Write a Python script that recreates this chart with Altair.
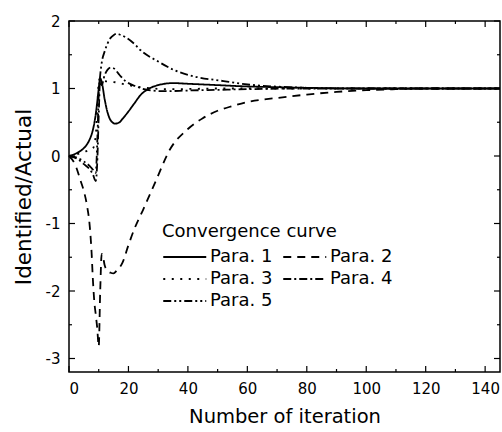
import altair as alt
import pandas as pd

# ---- data ----
p1_x = [0, 2, 4, 6, 7, 8, 9, 9.5, 10, 10.5, 11, 12, 13, 14, 15.5, 17, 18, 20, 22, 24, 27, 30, 35, 40, 45, 50, 60, 70, 80, 100, 145]
p1_y = [0, 0.03, 0.08, 0.17, 0.25, 0.38, 0.62, 0.8, 1.0, 1.15, 1.1, 0.84, 0.64, 0.53, 0.48, 0.5, 0.55, 0.66, 0.78, 0.9, 1.0, 1.05, 1.08, 1.07, 1.06, 1.05, 1.03, 1.02, 1.01, 1.0, 1.0]

p2_x = [0, 2, 4, 5, 6, 7, 7.6, 8, 8.5, 9, 9.5, 10, 10.5, 11, 11.5, 12, 13, 14, 15, 16, 18, 20, 22, 25, 29, 34, 40, 45, 50, 55, 60, 70, 80, 90, 100, 110, 120, 145]
p2_y = [0, -0.12, -0.38, -0.52, -0.72, -1.05, -1.43, -1.8, -2.15, -2.35, -2.55, -2.82, -2.0, -1.45, -1.5, -1.62, -1.7, -1.73, -1.74, -1.7, -1.58, -1.32, -1.08, -0.79, -0.39, 0.1, 0.4, 0.56, 0.67, 0.74, 0.8, 0.86, 0.91, 0.95, 0.975, 0.99, 1.0, 1.0]

p3_x = [0, 3, 5, 7, 8, 9, 9.5, 10, 10.5, 11, 12, 14, 16, 18, 20, 24, 28, 35, 50, 145]
p3_y = [0, 0.03, 0.06, 0.09, 0.11, 0.3, 0.7, 1.1, 1.15, 1.12, 1.11, 1.1, 1.09, 1.07, 1.05, 1.02, 1.0, 0.99, 1.0, 1.0]

p4_x = [0, 3, 5, 7, 8, 9, 9.5, 10, 10.5, 11, 12, 13, 14, 15, 17, 19, 22, 24.5, 28, 32, 40, 50, 60, 80, 145]
p4_y = [0, -0.05, -0.12, -0.2, -0.27, -0.37, -0.1, 0.6, 1.15, 1.05, 1.2, 1.28, 1.31, 1.3, 1.2, 1.11, 1.04, 1.0, 0.97, 0.96, 0.97, 0.98, 0.99, 1.0, 1.0]

p5_x = [0, 3, 5, 7, 8, 9, 9.5, 10, 10.5, 11, 12, 13, 14, 15, 16, 17, 19, 22, 24, 30, 35, 42, 52, 60, 69, 80, 95, 145]
p5_y = [0, -0.03, -0.08, -0.15, -0.2, -0.25, 0.2, 0.9, 1.2, 1.38, 1.55, 1.67, 1.75, 1.79, 1.81, 1.8, 1.76, 1.66, 1.57, 1.4, 1.28, 1.18, 1.11, 1.06, 1.03, 1.01, 1.0, 1.0]

series_names = ["Para. 1", "Para. 2", "Para. 3", "Para. 4", "Para. 5"]
dashes = {"Para. 1": [1, 0], "Para. 2": [8, 6], "Para. 3": [2, 6.5],
          "Para. 4": [8, 3, 2, 3], "Para. 5": [8, 3, 2, 3, 2, 3]}
# legend fills column by column: this order gives rows (1,2), (3,4), (5)
legend_order = ["Para. 1", "Para. 3", "Para. 5", "Para. 2", "Para. 4"]

x_major = [0, 20, 40, 60, 80, 100, 120, 140]
x_minor = [10, 30, 50, 70, 90, 110, 130]
y_major = [-3, -2, -1, 0, 1, 2]
y_minor = [-2.5, -1.5, -0.5, 0.5, 1.5]

W, H = 431, 351
FONT = "DejaVu Sans"

rows = []
for name, xs, ys in zip(series_names, [p1_x, p2_x, p3_x, p4_x, p5_x], [p1_y, p2_y, p3_y, p4_y, p5_y]):
    for i, (a, b) in enumerate(zip(xs, ys)):
        rows.append({"series": name, "iter": a, "val": b, "order": i})
df = pd.DataFrame(rows)

xscale = alt.Scale(domain=[0, 145], nice=False, zero=False)
yscale = alt.Scale(domain=[-3.2, 2], nice=False, zero=False)

lines = alt.Chart(df).mark_line(color="black", strokeWidth=1.8, interpolate="monotone").encode(
    x=alt.X("iter:Q", scale=xscale,
            axis=alt.Axis(values=x_major, title="Number of iteration", ticks=False, domain=False, grid=False,
                          labelFontSize=15, labelPadding=9, labelFont=FONT, labelColor="black",
                          titleFont=FONT, titleFontSize=19.5, titleFontWeight="normal", titleColor="black",
                          titlePadding=11)),
    y=alt.Y("val:Q", scale=yscale,
            axis=alt.Axis(values=y_major, title="Identified/Actual", ticks=False, domain=False, grid=False,
                          labelFontSize=15, labelPadding=9, labelFont=FONT, labelColor="black",
                          labelExpr="datum.value + ''",
                          titleFont=FONT, titleFontSize=21.5, titleFontWeight="normal", titleColor="black",
                          titlePadding=10)),
    strokeDash=alt.StrokeDash("series:N",
                              scale=alt.Scale(domain=legend_order, range=[dashes[n] for n in legend_order]),
                              legend=alt.Legend(title="Convergence curve", orient="none", legendX=93, legendY=202,
                                                columns=2, columnPadding=6, rowPadding=1,
                                                symbolType="M-2,0H2", symbolSize=462, symbolStrokeWidth=1.8,
                                                symbolOffset=10.75,
                                                symbolStrokeColor="black", labelOffset=13.25,
                                                labelFont=FONT, labelFontSize=18, labelColor="black",
                                                titleFont=FONT, titleFontSize=18, titleFontWeight="normal",
                                                titleColor="black", titlePadding=4)),
    order="order:Q",
)

def tick_layer(vals, channel, length):
    d = pd.DataFrame({"v": vals})
    base = alt.Chart(d).mark_rule(color="black", strokeWidth=1.2)
    if channel == "x":
        top = base.encode(x=alt.X("v:Q", scale=xscale), y=alt.value(0), y2=alt.value(length))
        bot = base.encode(x=alt.X("v:Q", scale=xscale), y=alt.value(H), y2=alt.value(H - length))
        return [top, bot]
    else:
        left = base.encode(y=alt.Y("v:Q", scale=yscale), x=alt.value(0), x2=alt.value(length))
        right = base.encode(y=alt.Y("v:Q", scale=yscale), x=alt.value(W), x2=alt.value(W - length))
        return [left, right]

layers = [lines]
layers += tick_layer(x_major, "x", 6)
layers += tick_layer(x_minor, "x", 3)
layers += tick_layer(y_major, "y", 6)
layers += tick_layer(y_minor, "y", 3)

chart = alt.layer(*layers).properties(
    width=W, height=H,
    padding={"left": 69, "top": 21, "right": 2, "bottom": 60},
    autosize=alt.AutoSizeParams(type="none"),
    background="white",
).configure_view(stroke="black", strokeWidth=1.5)

chart.save("out.html", embed_options={"renderer": "svg", "actions": False})
